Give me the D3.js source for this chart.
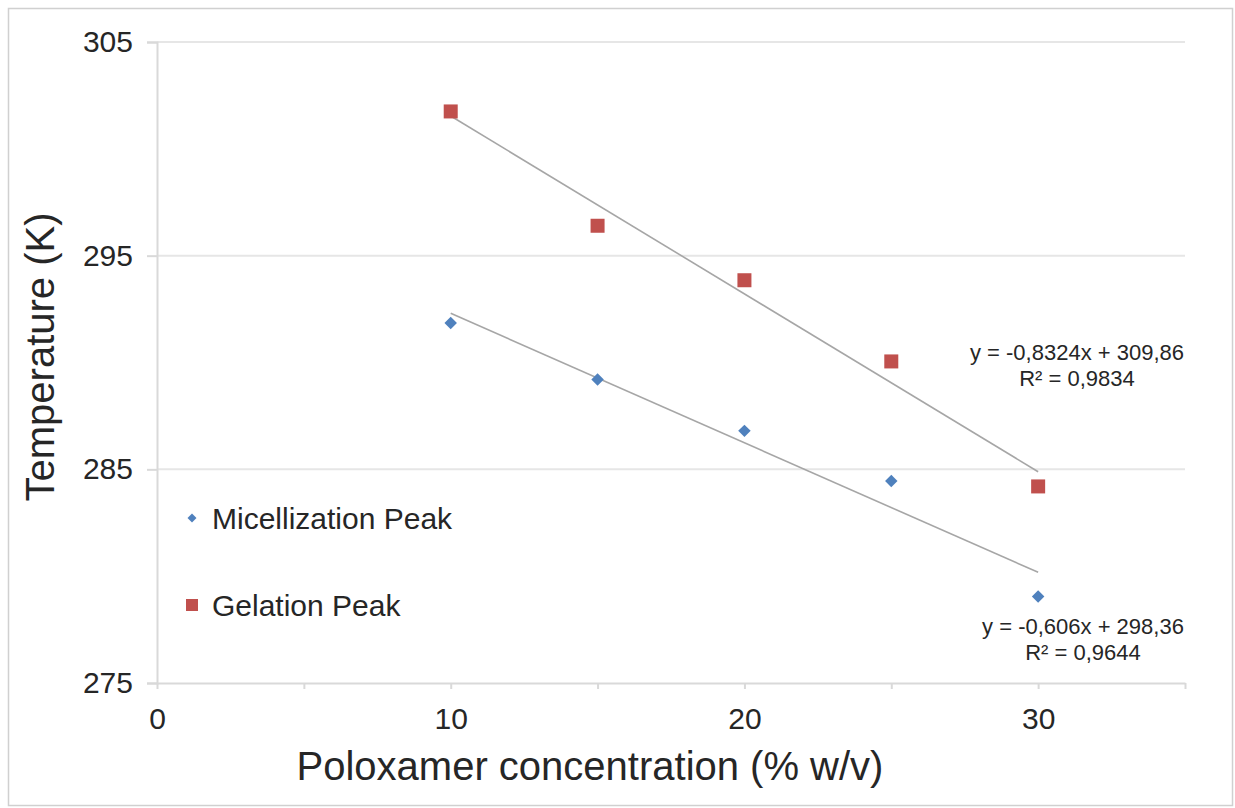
<!DOCTYPE html>
<html>
<head>
<meta charset="utf-8">
<script src="https://cdn.jsdelivr.net/npm/d3@7"></script>
<style>
  body { margin: 0; background: #fff; }
  text { font-family: "Liberation Sans", Arial, sans-serif; fill: #262626; }
</style>
</head>
<body>
<svg id="chart" width="1235" height="808"></svg>
<script>
// data
var concentration = [10, 15, 20, 25, 30];
var micellization = [291.85, 289.2, 286.8, 284.45, 279.05];
var gelation = [301.75, 296.4, 293.85, 290.05, 284.2];
var fitMic = { slope: -0.606, icept: 298.36, label: "y = -0,606x + 298,36", r2: "R² = 0,9644" };
var fitGel = { slope: -0.8324, icept: 309.86, label: "y = -0,8324x + 309,86", r2: "R² = 0,9834" };
var yTicks = [275, 285, 295, 305];
var xTicks = [0, 10, 20, 30];
var xMinor = [0, 5, 10, 15, 20, 25, 30, 35];

var svg = d3.select("#chart");

// outer frame
svg.append("rect")
    .attr("x", 8.5).attr("y", 8.5)
    .attr("width", 1224).attr("height", 797)
    .attr("fill", "none").attr("stroke", "#d0d0d0").attr("stroke-width", 1.5);

var x = d3.scaleLinear().domain([0, 35]).range([157, 1185]);
var y = d3.scaleLinear().domain([275, 305]).range([683, 42]);

// gridlines
svg.append("g").selectAll("line")
    .data(yTicks.slice(1))
    .enter().append("line")
    .attr("x1", x(0)).attr("x2", x(35))
    .attr("y1", function(d) { return y(d); })
    .attr("y2", function(d) { return y(d); })
    .attr("stroke", "#e6e6e6").attr("stroke-width", 2);

// y axis
var yAxis = svg.append("g")
    .attr("transform", "translate(" + x(0) + ",0)")
    .call(d3.axisLeft(y).tickValues(yTicks).tickSize(10).tickPadding(14));
yAxis.select(".domain").attr("stroke", "#d9d9d9").attr("stroke-width", 2);
yAxis.selectAll(".tick line").attr("stroke", "#d9d9d9").attr("stroke-width", 2);
yAxis.selectAll(".tick text").attr("font-size", 30).attr("fill", "#262626")
    .attr("font-family", "Liberation Sans, Arial, sans-serif");

// x axis
var xAxis = svg.append("g")
    .attr("transform", "translate(0," + y(275) + ")")
    .call(d3.axisBottom(x).tickValues(xMinor).tickSize(6).tickSizeOuter(0)
        .tickFormat(function(d) { return xTicks.indexOf(d) >= 0 ? d : ""; }).tickPadding(19));
xAxis.select(".domain").attr("stroke", "#d9d9d9").attr("stroke-width", 2);
xAxis.selectAll(".tick line").attr("stroke", "#d9d9d9").attr("stroke-width", 2);
xAxis.selectAll(".tick text").attr("font-size", 30).attr("fill", "#262626")
    .attr("font-family", "Liberation Sans, Arial, sans-serif");

// axis titles
svg.append("text")
    .attr("x", 590).attr("y", 780)
    .attr("text-anchor", "middle")
    .attr("font-size", 40)
    .text("Poloxamer concentration (% w/v)");

svg.append("text")
    .attr("transform", "translate(54,357) rotate(-90)")
    .attr("text-anchor", "middle")
    .attr("font-size", 40)
    .text("Temperature (K)");

// trendlines
function trend(fit) {
    return [10, 30].map(function(c) { return [c, fit.slope * c + fit.icept]; });
}
var line = d3.line().x(function(d) { return x(d[0]); }).y(function(d) { return y(d[1]); });
[fitGel, fitMic].forEach(function(fit) {
    svg.append("path")
        .attr("d", line(trend(fit)))
        .attr("fill", "none").attr("stroke", "#a6a6a6").attr("stroke-width", 1.6);
});

// markers
var diamond = d3.symbol().type(d3.symbolSquare).size(78);
svg.append("g").selectAll("path")
    .data(concentration)
    .enter().append("path")
    .attr("d", diamond)
    .attr("transform", function(d, i) { return "translate(" + x(d) + "," + y(micellization[i]) + ") rotate(45)"; })
    .attr("fill", "#4f81bd");

svg.append("g").selectAll("rect")
    .data(concentration)
    .enter().append("rect")
    .attr("x", function(d) { return x(d) - 7; })
    .attr("y", function(d, i) { return y(gelation[i]) - 7; })
    .attr("width", 14).attr("height", 14)
    .attr("fill", "#c0504d");

// equation labels
function eqLabel(fit, cx, top) {
    svg.append("text").attr("x", cx).attr("y", top)
        .attr("text-anchor", "middle").attr("font-size", 22).text(fit.label);
    svg.append("text").attr("x", cx).attr("y", top + 26)
        .attr("text-anchor", "middle").attr("font-size", 22).text(fit.r2);
}
eqLabel(fitGel, 1077, 360);
eqLabel(fitMic, 1083, 634);

// legend
var legend = svg.append("g");
legend.append("path")
    .attr("d", d3.symbol().type(d3.symbolSquare).size(40))
    .attr("transform", "translate(192,518) rotate(45)")
    .attr("fill", "#4f81bd");
legend.append("text").attr("x", 212).attr("y", 529).attr("font-size", 30).text("Micellization Peak");
legend.append("rect")
    .attr("x", 186).attr("y", 599).attr("width", 12).attr("height", 12)
    .attr("fill", "#c0504d");
legend.append("text").attr("x", 212).attr("y", 616).attr("font-size", 30).text("Gelation Peak");
</script>
</body>
</html>
